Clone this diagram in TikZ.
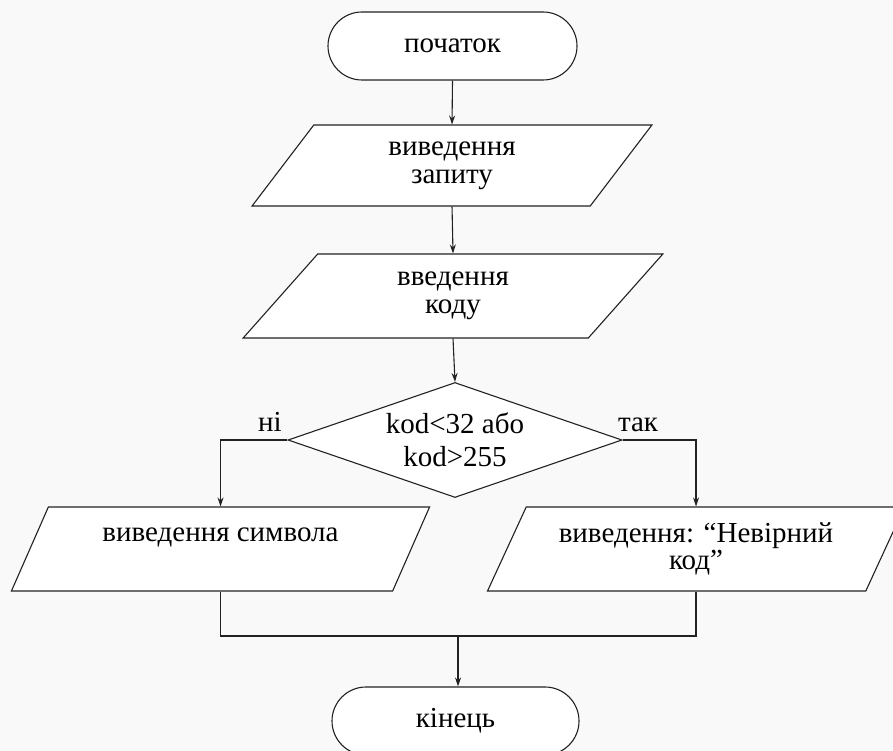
\documentclass[tikz,border=0pt]{standalone}
\usepackage{fontspec}
\setmainfont{Liberation Serif}
\usetikzlibrary{shapes.geometric,arrows.meta}
\definecolor{bgcol}{HTML}{F9F9F9}
\definecolor{ink}{HTML}{222222}
\begin{document}
\begin{tikzpicture}[x=1pt,y=-1pt,
  line/.style={line width=1.1pt, draw=ink},
  arr/.style={line, -{Stealth[length=9pt,width=6pt]}},
  txt/.style={font=\fontsize{29pt}{28pt}\selectfont, align=center, text=black},
  term/.style={line, txt, fill=white, rectangle, rounded corners=34pt,
    minimum width=249pt, minimum height=68pt, inner sep=0pt},
  io/.style={line, txt, fill=white, trapezium, trapezium stretches=true,
    inner sep=0pt, minimum height=84pt},
  cond/.style={line, fill=white, diamond, shape aspect=2.9, inner sep=0pt,
    minimum width=334pt, minimum height=115pt, align=center,
    font=\fontsize{29pt}{33pt}\selectfont},
  lab/.style={txt, inner sep=0pt, anchor=base}
]
% page and background
\fill[bgcol] (0,0) rectangle (893,751);
\clip (0,0) rectangle (893,751);

% blocks
\node[term] (start) at (452.5,46) {початок};
\node[io, minimum width=400pt, minimum height=81pt,
  trapezium left angle=59.35, trapezium right angle=120.65]
  (ask) at (452,165.5) {виведення\\запиту};
\node[io, minimum width=420pt,
  trapezium left angle=57.3, trapezium right angle=122.7]
  (code) at (453,296) {введення\\коду};
\node[cond] (check) at (455,440) {kod<32 або\\kod>255};
\node[io, minimum width=419pt,
  trapezium left angle=58.7, trapezium right angle=121.3]
  (sym) at (220.5,549) {виведення символа\\\mbox{}};
\node[io, minimum width=418pt, font=\fontsize{29pt}{27pt}\selectfont,
  trapezium left angle=59.2, trapezium right angle=120.8]
  (bad) at (696,549) {виведення: “Невірний\\код”};
\node[term, minimum width=247pt] (stop) at (455.5,721) {кінець};

% branch labels
\node[lab] (no) at (270,431) {ні};
\node[lab] (yes) at (638,431) {так};

% connectors
\draw[arr] (start.south) -- (ask.north);
\draw[arr] (ask.south) -- (code.north);
\draw[arr] (code.south) -- (check.north);
\draw[arr] (check.west) -| (sym.north);
\draw[arr] (check.east) -| (bad.north);
\coordinate (join) at (458,636);
\draw[line] (sym.south) |- (join) -| (bad.south);
\draw[arr] (join) -- (join |- stop.north);
\end{tikzpicture}
\end{document}
